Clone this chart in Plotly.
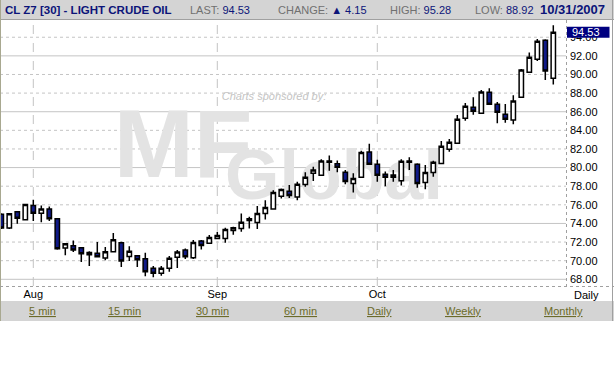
import plotly.graph_objects as go

# ---------------- data ----------------
dates = (["07-26", "07-27", "07-30", "07-31"] +
         ["08-%02d" % d for d in [1, 2, 3, 6, 7, 8, 9, 10, 13, 14, 15, 16, 17, 20, 21, 22, 23, 24, 27, 28, 29, 30, 31]] +
         ["09-%02d" % d for d in [3, 4, 5, 6, 7, 10, 11, 12, 13, 14, 17, 18, 19, 20, 21, 24, 25, 26, 27, 28]] +
         ["10-%02d" % d for d in [1, 2, 3, 4, 5, 8, 9, 10, 11, 12, 15, 16, 17, 18, 19, 22, 23, 24, 25, 26, 29, 30, 31]])

opens = [75.0, 73.5, 75.25, 74.39, 75.93, 75.1, 75.54, 74.5, 71.36, 71.61,
         71.39, 70.89, 70.79, 70.29, 70.96, 71.93, 70.46, 70.54, 70.21, 69.18,
         68.64, 69.18, 70.36, 71.14, 70.32, 72.11, 71.86, 72.39, 72.39, 73.25,
         73.46, 74.32, 74.11, 75.07, 75.54, 76.93, 77.46, 76.85, 78.19, 79.38,
         79.17, 80.58, 80.4, 79.49, 78.3, 78.95, 81.67, 80.36, 79.28, 79.2,
         78.59, 80.72, 80.36, 78.41, 79.48, 80.45, 81.96, 82.6, 85.29, 86.47,
         85.83, 88.09, 86.8, 85.72, 85.11, 87.55, 90.24, 91.63, 93.68, 89.59]
highs = [75.1, 75.1, 75.32, 76.1, 76.54, 75.93, 75.82, 74.5, 71.82, 72.18,
         71.39, 71.0, 72.0, 71.46, 72.96, 72.04, 71.54, 70.54, 70.86, 69.43,
         69.43, 70.5, 71.14, 71.32, 72.21, 72.21, 72.75, 73.07, 73.54, 73.64,
         75.07, 74.71, 75.86, 76.5, 77.57, 77.75, 78.12, 78.48, 79.49, 80.1,
         80.9, 81.3, 80.76, 79.75, 79.4, 81.81, 82.57, 80.83, 79.57, 79.75,
         80.9, 81.12, 80.47, 80.27, 80.74, 82.85, 83.07, 85.65, 86.94, 87.55,
         88.34, 88.52, 87.05, 86.83, 87.76, 90.6, 92.35, 93.82, 93.78, 95.28]
lows = [73.4, 73.4, 73.96, 74.39, 74.25, 74.14, 74.25, 71.18, 70.57, 70.93,
        69.86, 69.43, 70.4, 70.04, 70.96, 69.32, 69.96, 69.32, 68.32, 68.21,
        68.39, 68.82, 69.21, 70.18, 70.18, 71.21, 71.79, 72.32, 71.93, 72.79,
        73.11, 73.46, 73.39, 74.43, 75.54, 76.68, 76.74, 76.49, 77.93, 78.55,
        79.17, 79.67, 79.49, 78.22, 77.32, 78.95, 80.29, 78.48, 78.0, 78.48,
        78.08, 79.75, 77.83, 77.66, 79.02, 80.45, 81.71, 82.6, 85.04, 85.68,
        85.83, 86.8, 84.75, 84.82, 84.65, 87.55, 90.24, 91.46, 89.41, 88.92]
closes = [73.5, 75.04, 74.57, 76.04, 75.1, 75.54, 74.5, 71.29, 71.82, 71.14,
          70.75, 70.64, 70.43, 70.96, 72.25, 69.96, 71.0, 70.11, 68.82, 68.64,
          69.18, 70.25, 70.93, 70.43, 71.96, 71.64, 72.5, 72.71, 73.36, 73.54,
          74.14, 74.5, 75.07, 75.71, 77.32, 77.64, 76.99, 78.22, 78.95, 79.75,
          80.72, 80.72, 80.04, 78.51, 78.84, 81.63, 80.36, 79.17, 78.95, 78.95,
          80.69, 80.58, 78.3, 79.48, 80.56, 82.28, 82.71, 85.18, 86.58, 86.04,
          88.12, 86.8, 85.94, 85.18, 87.15, 90.49, 91.85, 93.57, 90.38, 94.53]

month_names = {"08": "Aug", "09": "Sep", "10": "Oct"}
y_ticks = [68, 70, 72, 74, 76, 78, 80, 82, 84, 86, 88, 90, 92, 94]
solid_grid = [68, 74, 80, 86, 92]

symbol = "CL Z7 [30] - LIGHT CRUDE OIL"
last_price = 94.53
change = 4.15
day_high = 95.28
day_low = 88.92
as_of = "10/31/2007"
links = ["5 min", "15 min", "30 min", "60 min", "Daily", "Weekly", "Monthly"]

# ---------------- layout geometry (pixels) ----------------
W, H = 614, 384
PL, PR, PT, PB = 0, 566, 20, 286   # plot area in page pixels
x0_px, step_px = 1.3, 8.0          # first candle centre and candle pitch
y_ref_val, y_ref_px, px_per_unit = 68.0, 279.3, 9.31


def fx(px):
    return (px - PL) / (PR - PL)


def fy(py):
    return (PB - py) / (PB - PT)


def dx(px):
    return (px - x0_px) / step_px


def dy(py):
    return y_ref_val + (y_ref_px - py) / px_per_unit


xs = list(range(len(dates)))
x_range = [dx(PL), dx(PR)]
y_range = [dy(PB), dy(PT)]

month_idx, month_txt = [], []
prev = None
for i, d in enumerate(dates):
    m = d[:2]
    if m != prev and m in month_names and i > 0:
        month_idx.append(i)
        month_txt.append(month_names[m])
    prev = m

NAVY = "#0c1479"
GRID = "#c4c4c4"
BAR = "#d4d4d4"
WM = "#e3e3e3"
FONT = "Liberation Sans, Arial, sans-serif"

fig = go.Figure()

# watermark on the base axes (drawn below the candle subplot)
fig.add_trace(go.Scatter(
    x=[dx(274)], y=[dy(97)], mode="text", text=["Charts sponsored by:"],
    textfont=dict(family=FONT, size=11, color="#c4c4c4", style="italic"),
    hoverinfo="skip", showlegend=False))
fig.add_trace(go.Scatter(
    x=[dx(183)], y=[dy(153)], mode="text", text=["MF"],
    textfont=dict(family=FONT, size=96, color=WM, weight="bold"),
    hoverinfo="skip", showlegend=False))
fig.add_trace(go.Scatter(
    x=[dx(334)], y=[dy(181)], mode="text", text=["Global"],
    textfont=dict(family=FONT, size=70, color=WM, weight="bold"),
    hoverinfo="skip", showlegend=False))

fig.add_trace(go.Candlestick(
    x=xs, open=opens, high=highs, low=lows, close=closes,
    xaxis="x2", yaxis="y2",
    increasing=dict(line=dict(color="black", width=1.5), fillcolor="white"),
    decreasing=dict(line=dict(color="black", width=1.5), fillcolor="#101a88"),
    whiskerwidth=0, showlegend=False, hoverinfo="skip"))

shapes = []
# horizontal grid
for v in y_ticks:
    shapes.append(dict(type="line", xref="paper", yref="y", x0=0, x1=1, y0=v, y1=v,
                       line=dict(color=GRID, width=1, dash="solid" if v in solid_grid else "dot"),
                       layer="below"))
# month separators
for i in month_idx:
    shapes.append(dict(type="line", xref="x", yref="paper", x0=i, x1=i, y0=0, y1=1,
                       line=dict(color=GRID, width=1, dash="dash"), layer="below"))
# header bar
shapes.append(dict(type="rect", xref="paper", yref="paper", x0=fx(0), x1=fx(W), y0=fy(0), y1=fy(19),
                   fillcolor=BAR, line=dict(width=0), layer="below"))
shapes.append(dict(type="line", xref="paper", yref="paper", x0=fx(0), x1=fx(W), y0=fy(19.5), y1=fy(19.5),
                   line=dict(color="#a0a0a0", width=1)))
# link bar
shapes.append(dict(type="rect", xref="paper", yref="paper", x0=fx(0), x1=fx(W), y0=fy(301), y1=fy(321),
                   fillcolor=BAR, line=dict(width=0), layer="below"))
# frame lines
shapes.append(dict(type="line", xref="paper", yref="paper", x0=fx(0.5), x1=fx(0.5), y0=fy(0), y1=fy(321),
                   line=dict(color="#a8a890", width=1)))
shapes.append(dict(type="line", xref="paper", yref="paper", x0=fx(612.5), x1=fx(612.5), y0=fy(0), y1=fy(321),
                   line=dict(color="#a0a0a0", width=1)))
shapes.append(dict(type="line", xref="paper", yref="paper", x0=fx(0), x1=fx(W), y0=fy(286.5), y1=fy(286.5),
                   line=dict(color="#a0a0a0", width=1, dash="dot")))
shapes.append(dict(type="line", xref="paper", yref="paper", x0=fx(566.5), x1=fx(566.5), y0=fy(20), y1=fy(286),
                   line=dict(color="#a0a0a0", width=1, dash="dot")))
# last price marker box
box_half = 5.5 / px_per_unit
shapes.append(dict(type="rect", xref="paper", yref="y", x0=fx(567), x1=fx(609.5),
                   y0=last_price - box_half, y1=last_price + box_half,
                   fillcolor="#000080", line=dict(width=0), layer="above"))

ann = []
ann.append(dict(text="<b>%s</b>" % symbol, x=fx(3), y=fy(10), xanchor="left", yanchor="middle",
                font=dict(family=FONT, size=11.5, color=NAVY)))


def hdr(label, value, xpx):
    ann.append(dict(text='<span style="color:#707070">%s</span> %s' % (label, value),
                    x=fx(xpx), y=fy(10), xanchor="left", yanchor="middle",
                    font=dict(family=FONT, size=11, color=NAVY)))


hdr("LAST:", "%.2f" % last_price, 188)
hdr("CHANGE:", "\u25B2 %.2f" % change, 276)
hdr("HIGH:", "%.2f" % day_high, 388)
hdr("LOW:", "%.2f" % day_low, 473)
ann.append(dict(text="<b>%s</b>" % as_of, x=fx(607), y=fy(10), xanchor="right", yanchor="middle",
                font=dict(family=FONT, size=13, color=NAVY)))
# last price text
ann.append(dict(text="%.2f" % last_price, x=fx(570), y=last_price, xref="paper", yref="y",
                xanchor="left", yanchor="middle",
                font=dict(family=FONT, size=11, color="white")))
# "Daily" period label
ann.append(dict(text="Daily", x=fx(586), y=fy(295), xanchor="center", yanchor="middle",
                font=dict(family=FONT, size=11, color="black")))
link_centres = [42, 124, 212, 300, 379, 463, 563]
for t, c in zip(links, link_centres):
    ann.append(dict(text="<u>%s</u>" % t, x=fx(c), y=fy(311), xanchor="center", yanchor="middle",
                    font=dict(family=FONT, size=11, color="#6b6b2a")))
for a in ann:
    a.setdefault("xref", "paper")
    a.setdefault("yref", "paper")
    a["showarrow"] = False

hidden = dict(showgrid=False, zeroline=False, showline=False, ticks="", showticklabels=False,
              fixedrange=True)

fig.update_layout(
    width=W, height=H,
    margin=dict(l=PL, r=W - PR, t=PT, b=H - PB, pad=0),
    paper_bgcolor="white", plot_bgcolor="white",
    boxgap=0.22,
    shapes=shapes, annotations=ann,
    xaxis=dict(range=x_range, tickvals=month_idx, ticktext=month_txt, showgrid=False,
               zeroline=False, showline=False, ticks="", rangeslider=dict(visible=False),
               tickfont=dict(family=FONT, size=11, color="black"), fixedrange=True),
    yaxis=dict(range=y_range, side="right", tickvals=y_ticks, ticklabelstandoff=3,
               ticktext=["%.2f" % v for v in y_ticks], showgrid=False, zeroline=False,
               showline=False, ticks="", tickfont=dict(family=FONT, size=11, color="black"),
               fixedrange=True),
    xaxis2=dict(range=x_range, overlaying="x", rangeslider=dict(visible=False), **hidden),
    yaxis2=dict(range=y_range, overlaying="y", side="right", **hidden),
)

fig.write_html("out.html")
